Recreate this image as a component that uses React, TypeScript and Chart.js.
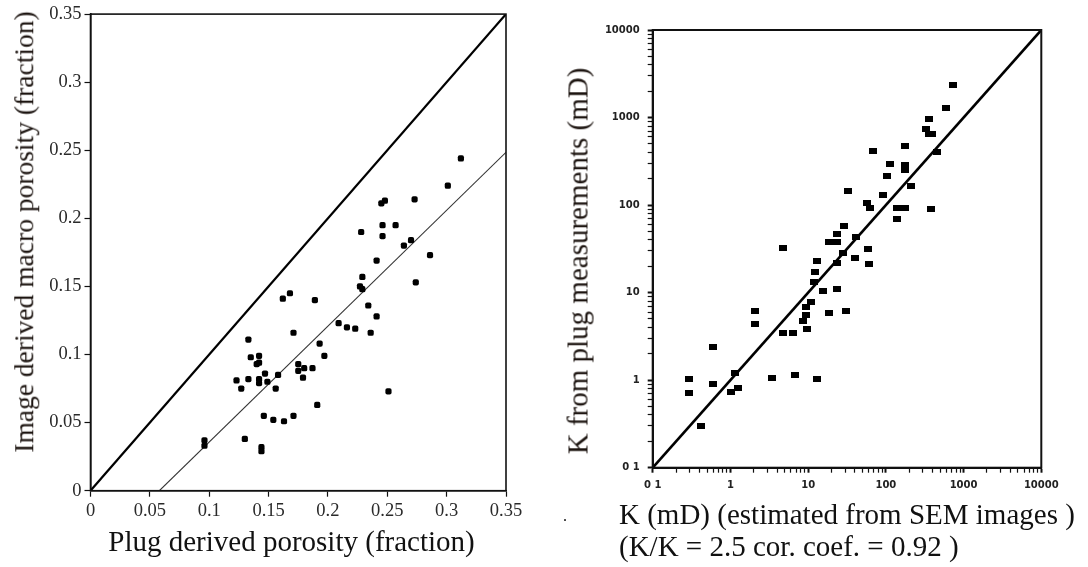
import React, { useEffect, useRef } from "react";
import { Chart, registerables } from "chart.js";

Chart.register(...registerables);

// ---------- Left chart: porosity ----------
const plugPorosity = [
  0.096, 0.096, 0.123, 0.127, 0.130, 0.133, 0.133, 0.135, 0.140, 0.142,
  0.142, 0.142, 0.142, 0.147, 0.149, 0.144, 0.144, 0.146, 0.154, 0.156,
  0.158, 0.162, 0.163, 0.168, 0.171, 0.171, 0.175, 0.175, 0.179, 0.180,
  0.187, 0.189, 0.191, 0.193, 0.197, 0.209, 0.216, 0.223, 0.228, 0.227,
  0.229, 0.229, 0.234, 0.236, 0.241, 0.241, 0.245, 0.248, 0.246, 0.246,
  0.251, 0.257, 0.264, 0.270, 0.273, 0.274, 0.286, 0.301, 0.312,
];
const imagePorosity = [
  0.037, 0.033, 0.081, 0.075, 0.038, 0.111, 0.082, 0.098, 0.093, 0.099,
  0.094, 0.082, 0.079, 0.086, 0.080, 0.032, 0.029, 0.055, 0.052, 0.075,
  0.085, 0.141, 0.051, 0.145, 0.116, 0.055, 0.093, 0.088, 0.083, 0.090,
  0.090, 0.140, 0.063, 0.108, 0.099, 0.123, 0.120, 0.119, 0.190, 0.150,
  0.157, 0.148, 0.136, 0.116, 0.169, 0.128, 0.211, 0.213, 0.195, 0.187,
  0.073, 0.195, 0.180, 0.184, 0.214, 0.153, 0.173, 0.224, 0.244,
];
const porosityTickValues = [0, 0.05, 0.1, 0.15, 0.2, 0.25, 0.3, 0.35];
const porosityTickLabels = ["0", "0.05", "0.1", "0.15", "0.2", "0.25", "0.3", "0.35"];
const identityX = [0, 0.35];
const identityY = [0, 0.35];
const fitX = [0.058, 0.35];
const fitY = [0, 0.2485];

// ---------- Right chart: permeability ----------
const kSem = [
  0.296, 0.296, 0.415, 0.592, 0.592, 1.03, 1.156, 1.26, 2.05, 2.09,
  3.43, 4.79, 4.71, 6.33, 6.84, 8.59, 9.47, 9.47, 9.58, 10.8,
  11.9, 12.1, 12.9, 13.1, 15.4, 18.4, 18.7, 23.7, 23.7, 23.8,
  23.7, 28.3, 28.9, 30.4, 32.9, 40.1, 41.3, 57.7, 58.9, 61.2,
  62.5, 68.9, 92.7, 104, 113, 140, 140, 178, 178, 178,
  178, 209, 328, 356, 356, 393, 385, 451, 738, 589,
];
const kPlug = [
  1.03, 0.72, 0.302, 2.41, 0.912, 0.726, 1.2, 0.813, 6.21, 4.38,
  1.05, 32.1, 3.49, 3.49, 1.15, 4.7, 5.55, 6.9, 3.81, 7.75,
  13.3, 17.3, 23.0, 1.02, 10.4, 37.9, 5.81, 21.8, 38.2, 46.7,
  11.0, 28.6, 58.1, 6.21, 145, 24.9, 42.9, 106, 31.8, 21.2,
  91.9, 415, 131, 215, 294, 92.6, 68.8, 473, 289, 254,
  92.6, 165, 746, 955, 644, 644, 90.9, 401, 2366, 1300,
];
const kMajorTicks = [0.1, 1, 10, 100, 1000, 10000];
const kTickLabels = ["0 1", "1", "10", "100", "1000", "10000"];
const kMinorMultipliers = [2, 3, 4, 5, 6, 7, 8, 9];
const kLineX = [0.1, 10000];
const kLineY = [0.1, 10000];

const leftYTitle = "Image derived macro porosity (fraction)";
const leftXTitle = "Plug derived porosity (fraction)";
const rightYTitle = "K from plug measurements (mD)";
const rightXTitle1 = "K (mD) (estimated from SEM images )";
const rightXTitle2 = "(K/K = 2.5 cor. coef. = 0.92 )";

const SERIF = "'Liberation Serif', 'Times New Roman', serif";

const framePlugin = {
  id: "frame",
  afterDraw(chart: any, _args: any, opts: any) {
    const { ctx, chartArea: a } = chart;
    ctx.save();
    ctx.strokeStyle = opts.color || "#000";
    ctx.lineWidth = opts.width || 1.5;
    ctx.strokeRect(a.left, a.top, a.right - a.left, a.bottom - a.top);
    ctx.restore();
  },
};

function labelFor(values: number[], labels: string[], v: number) {
  const i = values.findIndex((t) => Math.abs(t - v) <= Math.abs(t) * 1e-6 + 1e-9);
  return i >= 0 ? labels[i] : "";
}

function buildLogTicks() {
  const out: { value: number }[] = [];
  for (let i = 0; i < kMajorTicks.length; i++) {
    const base = kMajorTicks[i];
    out.push({ value: base });
    if (i < kMajorTicks.length - 1) {
      for (const m of kMinorMultipliers) {
        out.push({ value: Number((m * base).toPrecision(6)) });
      }
    }
  }
  return out;
}

function isMajor(v: number) {
  return kMajorTicks.some((t) => Math.abs(t - v) <= t * 1e-6);
}

export default function App() {
  const leftRef = useRef<HTMLCanvasElement | null>(null);
  const rightRef = useRef<HTMLCanvasElement | null>(null);

  useEffect(() => {
    const porosityAxisCommon = {
      type: "linear" as const,
      min: 0,
      max: 0.35,
      afterBuildTicks: (s: any) => {
        s.ticks = porosityTickValues.map((v) => ({ value: v }));
      },
      ticks: {
        callback: (v: any) => labelFor(porosityTickValues, porosityTickLabels, Number(v)),
        font: { family: SERIF, size: 18.5 },
        color: "#2a2a2a",
        padding: 3,
        autoSkip: false,
        maxRotation: 0,
      },
      grid: {
        display: true,
        drawOnChartArea: false,
        drawTicks: true,
        tickLength: 6,
        tickColor: "#111",
        tickWidth: 1.2,
      },
      border: { display: true, color: "#111", width: 1.6 },
    };

    const left = new Chart(leftRef.current as HTMLCanvasElement, {
      type: "scatter",
      data: {
        datasets: [
          {
            data: plugPorosity.map((x, i) => ({ x, y: imagePorosity[i] })),
            pointStyle: "rectRounded",
            pointRadius: 3.6,
            backgroundColor: "#000",
            borderWidth: 0,
          },
          {
            data: identityX.map((x, i) => ({ x, y: identityY[i] })),
            showLine: true,
            borderColor: "#000",
            borderWidth: 2.2,
            pointRadius: 0,
          },
          {
            data: fitX.map((x, i) => ({ x, y: fitY[i] })),
            showLine: true,
            borderColor: "#333",
            borderWidth: 1.1,
            pointRadius: 0,
          },
        ],
      },
      options: {
        animation: false,
        responsive: false,
        devicePixelRatio: 1,
        layout: { padding: { left: 0, top: 13.3, right: 39, bottom: 0 } },
        plugins: {
          legend: { display: false },
          tooltip: { enabled: false },
          // @ts-ignore
          frame: { color: "#111", width: 1.6 },
        },
        scales: {
          x: { ...porosityAxisCommon, afterFit: (s: any) => { s.height = 76.3; } } as any,
          y: { ...porosityAxisCommon, afterFit: (s: any) => { s.width = 90.5; } } as any,
        },
      },
      plugins: [framePlugin],
    });

    const marker = document.createElement("canvas");
    marker.width = 8;
    marker.height = 6;
    const mctx = marker.getContext("2d");
    if (mctx) {
      mctx.fillStyle = "#000";
      mctx.fillRect(0, 0, 8, 6);
    }

    const logAxisCommon = {
      type: "logarithmic" as const,
      min: 0.1,
      max: 10000,
      afterBuildTicks: (s: any) => {
        s.ticks = buildLogTicks();
      },
      ticks: {
        callback: (v: any) => labelFor(kMajorTicks, kTickLabels, Number(v)),
        font: { family: "'DejaVu Sans', sans-serif", size: 10, weight: "bold" as const },
        color: "#222",
        padding: 7,
        autoSkip: false,
        maxRotation: 0,
      },
      grid: {
        display: true,
        drawOnChartArea: false,
        drawTicks: true,
        tickLength: 5,
        tickColor: "#111",
        tickWidth: (c: any) => (c.tick && isMajor(c.tick.value) ? 2 : 1.2),
      },
      border: { display: true, color: "#111", width: 2 },
    };

    const right = new Chart(rightRef.current as HTMLCanvasElement, {
      type: "scatter",
      data: {
        datasets: [
          {
            data: kSem.map((x, i) => ({ x, y: kPlug[i] })),
            pointStyle: marker,
            pointRadius: 4,
          },
          {
            data: kLineX.map((x, i) => ({ x, y: kLineY[i] })),
            showLine: true,
            borderColor: "#000",
            borderWidth: 2.6,
            pointRadius: 0,
          },
        ],
      },
      options: {
        animation: false,
        responsive: false,
        devicePixelRatio: 1,
        layout: { padding: { left: 0, top: 30, right: 46.7, bottom: 0 } },
        plugins: {
          legend: { display: false },
          tooltip: { enabled: false },
          // @ts-ignore
          frame: { color: "#111", width: 2 },
        },
        scales: {
          x: { ...logAxisCommon, afterFit: (s: any) => { s.height = 99.3; } } as any,
          y: { ...logAxisCommon, ticks: { ...logAxisCommon.ticks, padding: 8 }, afterFit: (s: any) => { s.width = 107.7; } } as any,
        },
      },
      plugins: [framePlugin],
    });

    return () => {
      left.destroy();
      right.destroy();
    };
  }, []);

  const titleBase: React.CSSProperties = {
    position: "absolute",
    fontFamily: SERIF,
    whiteSpace: "nowrap",
    lineHeight: 1,
    color: "#111",
  };

  return (
    <div style={{ position: "absolute", left: 0, top: 0, width: 1088, height: 567, background: "#fff", overflow: "hidden" }}>
      <canvas ref={leftRef} width={545} height={567} style={{ position: "absolute", left: 0, top: 0, width: 545, height: 567 }} />
      <canvas ref={rightRef} width={543} height={567} style={{ position: "absolute", left: 545, top: 0, width: 543, height: 567 }} />
      <div style={{ ...titleBase, fontSize: 27.5, color: "#1c1410", left: 23.7, top: 232, transform: "translate(-50%, -50%) rotate(-90deg)" }}>
        {leftYTitle}
      </div>
      <div style={{ ...titleBase, fontSize: 29, left: 291.5, top: 540.7, transform: "translate(-50%, -50%)" }}>
        {leftXTitle}
      </div>
      <div style={{ ...titleBase, fontSize: 29, color: "#1c1410", left: 578.2, top: 261, transform: "translate(-50%, -50%) rotate(-90deg)" }}>
        {rightYTitle}
      </div>
      <div style={{ ...titleBase, fontSize: 29, left: 619, top: 499.7 }}>{rightXTitle1}</div>
      <div style={{ ...titleBase, fontSize: 29, left: 619, top: 531.7 }}>{rightXTitle2}</div>
      <div style={{ ...titleBase, fontSize: 16, left: 563, top: 508 }}>.</div>
    </div>
  );
}
